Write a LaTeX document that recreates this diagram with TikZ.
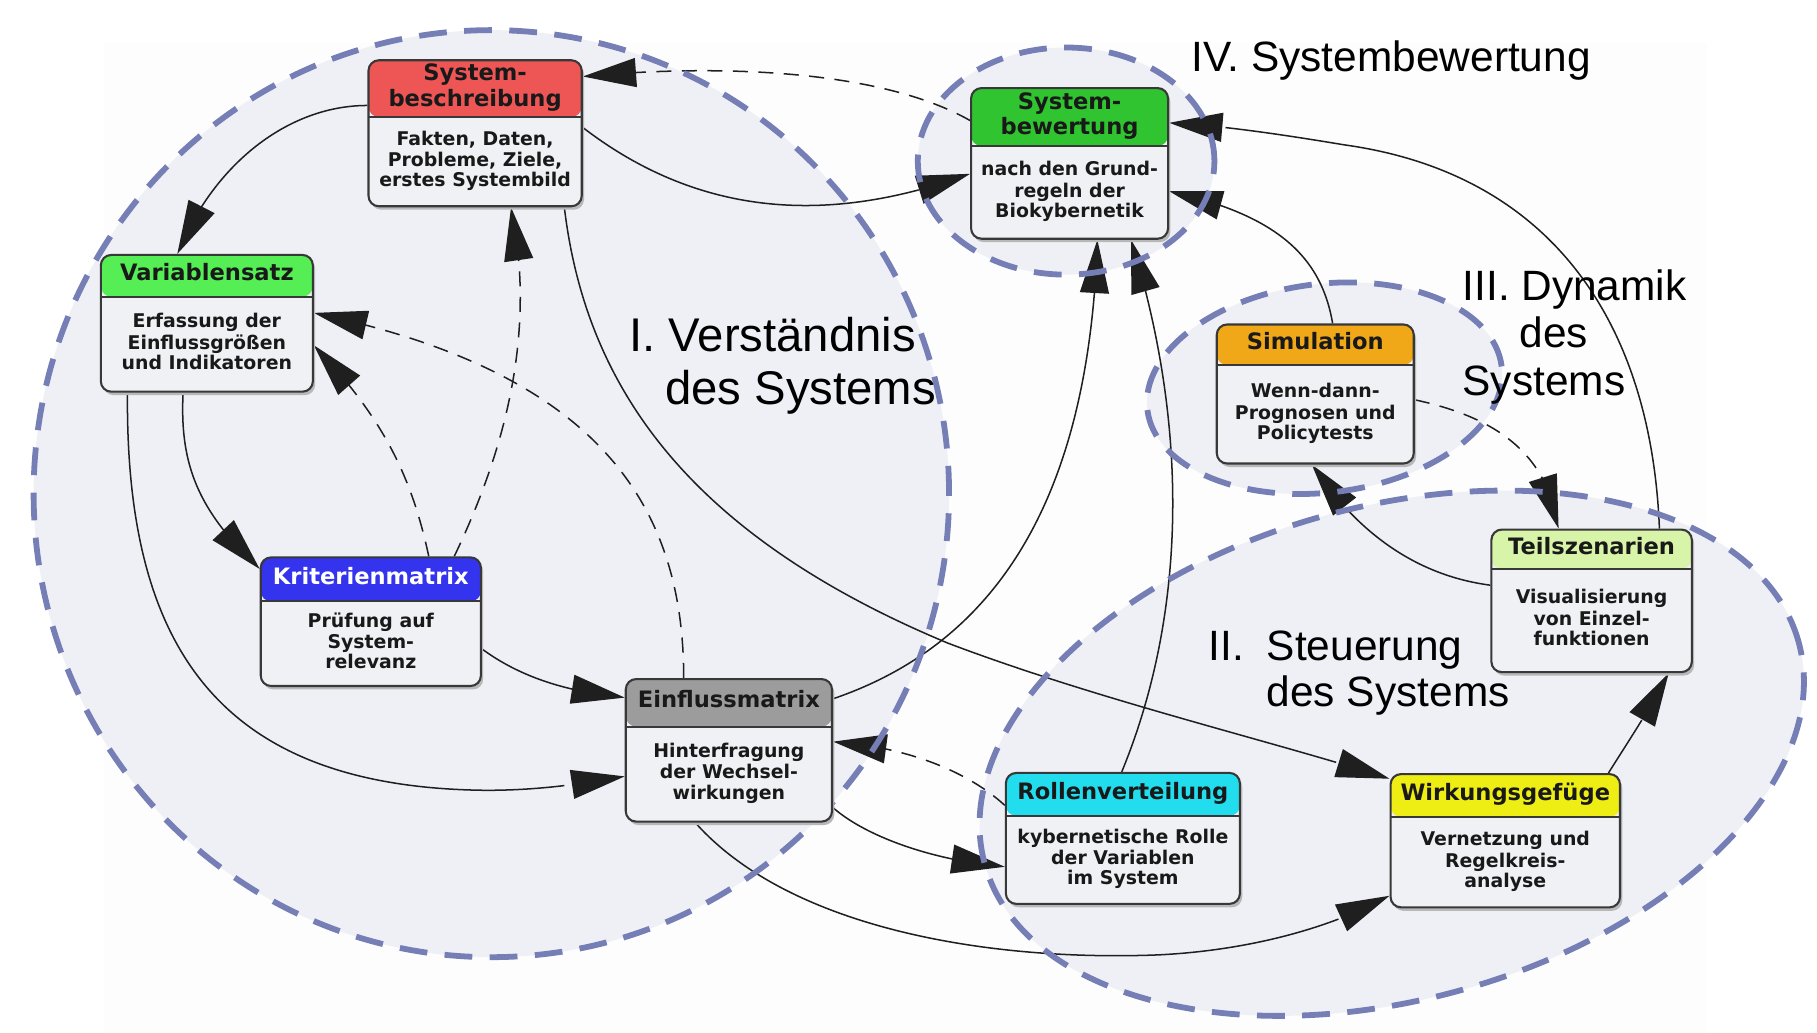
\documentclass[tikz,border=0pt]{standalone}
\usepackage{fontspec}
\newfontfamily\boxfont{DejaVu Sans}
\newfontfamily\lblfont{Liberation Sans}
\usetikzlibrary{arrows.meta,bending}
\pgfdeclarelayer{bgl}
\pgfdeclarelayer{conl}
\pgfdeclarelayer{elll}
\pgfsetlayers{bgl,conl,elll,main}
\definecolor{ellfill}{HTML}{EEF0F6}
\definecolor{ellline}{HTML}{767EB6}
\definecolor{boxbody}{HTML}{F0F1F5}
\definecolor{boxline}{HTML}{383838}
\definecolor{bgfaint}{HTML}{FDFDFD}
\definecolor{hred}{HTML}{EE5656}
\definecolor{hgreen}{HTML}{30C430}
\definecolor{hlgreen}{HTML}{55EE55}
\definecolor{horange}{HTML}{F0A818}
\definecolor{hblue}{HTML}{3434EE}
\definecolor{hpale}{HTML}{D8F4A8}
\definecolor{hgray}{HTML}{9C9C9C}
\definecolor{hcyan}{HTML}{22DDEE}
\definecolor{hyellow}{HTML}{EEEE14}
\newcommand\ttlfont{\boxfont\bfseries\fontsize{19.5}{21}\selectfont}
\newcommand\bdyfont{\boxfont\bfseries\fontsize{16.3}{17.3}\selectfont}
\newcommand\mkbox[9]{%
 \fill[black!28, rounded corners=9pt] ({#2+2},{#3+3}) rectangle ({#4+2},{#5+3});
 \node[boxshape, minimum width={(#4-#2)*1pt}, minimum height={(#5-#3)*1pt},
   path picture={\fill[#7] (path picture bounding box.north west) rectangle ([yshift={(#3-#6)*1pt}]path picture bounding box.north east);
     \draw[boxline, line width=1.6pt] ([yshift={(#3-#6)*1pt}]path picture bounding box.north west) -- ([yshift={(#3-#6)*1pt}]path picture bounding box.north east);}]
   (#1) at ({(#2+#4)/2},{(#3+#5)/2}) {};
 \node[ttl] (#1t) at ({(#2+#4)/2},{(#3+#6)/2}) {\strut #8\strut};
 \node[bdy] (#1b) at ({(#2+#4)/2},{(#6+#5)/2}) {\strut #9\strut};
}
\begin{document}
\begin{tikzpicture}[x=1pt,y=-1pt,
  ellf/.style={fill=ellfill},
  ell/.style={draw=ellline, line width=5pt, dash pattern=on 24pt off 15pt},
  conn/.style={draw=black!88, line width=1.3pt, -{Triangle[length=46pt,width=25pt]}},
  dconn/.style={conn, dash pattern=on 13pt off 9pt},
  boxshape/.style={rectangle, draw=boxline, line width=1.8pt, fill=boxbody, rounded corners=9pt, inner sep=0pt},
  ttl/.style={font=\ttlfont, align=center, inner sep=0pt, text=black!90},
  bdy/.style={font=\bdyfont, align=center, inner sep=0pt, text=black!90},
  lbl/.style={font=\lblfont\fontsize{36.6}{40}\selectfont, inner sep=0pt, anchor=base west},
  lblI/.style={font=\lblfont\fontsize{40.8}{44}\selectfont, inner sep=0pt, anchor=base west}]
\useasboundingbox (0,0) rectangle (1568,891);
\begin{pgfonlayer}{bgl}
\fill[white] (0,0) rectangle (1568,891);
\fill[bgfaint] (90,37) rectangle (1473,891);
\path[ellf] (424,426) ellipse [x radius=395pt, y radius=400pt];
\path[ellf] (920,139) ellipse [x radius=128pt, y radius=98pt];
\path[ellf, rotate around={7:(1143,335)}] (1143,335) ellipse [x radius=154pt, y radius=90pt];
\path[ellf, rotate around={15.2:(1201,650)}] (1201,650) ellipse [x radius=364pt, y radius=213pt];
\end{pgfonlayer}
\begin{pgfonlayer}{elll}
\path[ell] (424,426) ellipse [x radius=395pt, y radius=400pt];
\path[ell] (920,139) ellipse [x radius=128pt, y radius=98pt];
\path[ell, rotate around={7:(1143,335)}] (1143,335) ellipse [x radius=154pt, y radius=90pt];
\path[ell, rotate around={15.2:(1201,650)}] (1201,650) ellipse [x radius=364pt, y radius=213pt];
\end{pgfonlayer}
% boxes
\mkbox{sb}{318}{52}{502}{178}{101}{hred}{System-\\beschreibung}{Fakten, Daten,\\Probleme, Ziele,\\erstes Systembild}
\mkbox{sw}{838}{76}{1008}{206}{126}{hgreen}{System-\\bewertung}{nach den Grund-\\regeln der\\Biokybernetik}
\mkbox{vs}{87}{220}{270}{338}{256}{hlgreen}{Variablensatz}{Erfassung der\\Einflussgrößen\\und Indikatoren}
\mkbox{sim}{1050}{280}{1220}{400}{315}{horange}{Simulation}{Wenn-dann-\\Prognosen und\\Policytests}
\mkbox{km}{225}{481}{415}{592}{519}{hblue}{\textcolor{white}{Kriterienmatrix}}{Prüfung auf\\System-\\relevanz}
\mkbox{ts}{1287}{457}{1460}{580}{491}{hpale}{Teilszenarien}{Visualisierung\\von Einzel-\\funktionen}
\mkbox{em}{540}{586}{718}{709}{627}{hgray}{Einflussmatrix}{Hinterfragung\\der Wechsel-\\wirkungen}
\mkbox{rv}{868}{667}{1070}{780}{704}{hcyan}{Rollenverteilung}{kybernetische Rolle\\der Variablen\\im System}
\mkbox{wg}{1200}{668}{1398}{783}{705}{hyellow}{Wirkungsgefüge}{Vernetzung und\\Regelkreis-\\analyse}
% connectors
\begin{pgfonlayer}{conl}
\draw[conn] (sb.west |- 0,91) .. controls (250,91) and (185,140) .. (153,0 |- vs.north);
\draw[conn] (sb.east |- 0,110) .. controls (620,200) and (740,185) .. (sw.west |- 0,150);
\draw[dconn] (sw.west |- 0,104) .. controls (760,60) and (620,55) .. (sb.east |- 0,66);
\draw[conn] (158,0 |- vs.south) .. controls (155,400) and (170,440) .. (km.west |- 0,491);
\draw[conn] (110,0 |- vs.south) .. controls (108,560) and (190,680) .. (420,682) .. controls (470,682) and (510,675) .. (em.west |- 0,670);
\draw[dconn] (370,0 |- km.north) .. controls (355,410) and (330,360) .. (vs.east |- 0,298);
\draw[dconn] (392,0 |- km.north) .. controls (440,380) and (462,280) .. (441,0 |- sb.south);
\draw[dconn] (590,0 |- em.north) .. controls (590,430) and (510,320) .. (vs.east |- 0,270);
\draw[conn] (km.east |- 0,560) .. controls (450,585) and (490,597) .. (em.west |- 0,602);
\draw[conn] (487,0 |- sb.south) .. controls (505,330) and (590,460) .. (818,555) .. controls (950,605) and (1100,640) .. (wg.west |- 0,672);
\draw[conn] (em.east |- 0,603) .. controls (860,555) and (940,430) .. (947,0 |- sw.south);
\draw[conn] (968,0 |- rv.north) .. controls (1020,540) and (1030,380) .. (976,0 |- sw.south);
\draw[conn] (em.east |- 0,697) .. controls (745,720) and (800,742) .. (rv.west |- 0,748);
\draw[dconn] (rv.west |- 0,695) .. controls (840,670) and (790,645) .. (em.east |- 0,640);
\draw[conn] (600,0 |- em.south) .. controls (680,800) and (850,830) .. (1000,824) .. controls (1080,820) and (1150,800) .. (wg.west |- 0,773);
\draw[conn] (1388,0 |- wg.north) .. controls (1405,640) and (1425,610) .. (1440,0 |- ts.south);
\draw[conn] (ts.west |- 0,505) .. controls (1210,495) and (1162,446) .. (1132,0 |- sim.south);
\draw[dconn] (sim.east |- 0,345) .. controls (1290,360) and (1335,390) .. (1345,0 |- ts.north);
\draw[conn] (1150,0 |- sim.north) .. controls (1140,220) and (1100,185) .. (sw.east |- 0,165);
\draw[conn] (1432,0 |- ts.north) .. controls (1425,280) and (1340,150) .. (1160,125) .. controls (1100,115) and (1050,108) .. (sw.east |- 0,106);
\end{pgfonlayer}
% labels
\node[lbl] (l4) at (1028,62) {IV. Systembewertung};
\node[lbl] (l3a) at (1262,259) {III. Dynamik};
\node[lbl] (l3b) at (1311,300) {des};
\node[lbl] (l3c) at (1262,341) {Systems};
\node[lblI] (l1a) at (543,303) {I. Verständnis};
\node[lblI] (l1b) at (574,349) {des Systems};
\node[lbl] (l2a) at (1043,570) {II.};
\node[lbl] (l2b) at (1093,570) {Steuerung};
\node[lbl] (l2c) at (1093,610) {des Systems};
\end{tikzpicture}
\end{document}
